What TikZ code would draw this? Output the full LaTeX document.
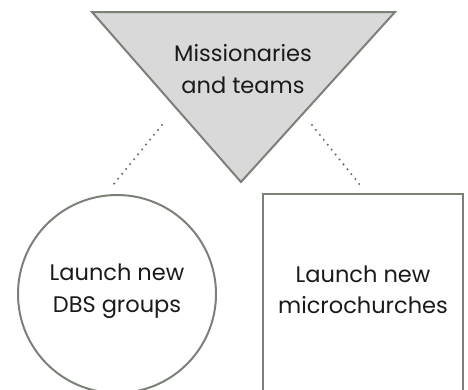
\documentclass[tikz,border=0pt]{standalone}
\usepackage{fontspec}
\setmainfont{Poppins}
\definecolor{edge}{HTML}{7A8278}
\definecolor{fillg}{HTML}{D9D9D9}
\definecolor{txt}{HTML}{1A1A1A}
\begin{document}
\begin{tikzpicture}[x=1pt,y=-1pt,
  shapeline/.style={draw=edge,line width=2pt},
  lbl/.style={align=center,text=txt,font=\fontsize{22.5}{31.5}\selectfont},
  dots/.style={draw=edge!85!black,line width=2.3pt,line cap=round,dash pattern=on 0pt off 6.3pt}]
\useasboundingbox (0,0) rectangle (468,389);
\begin{scope}
\clip (0,0) rectangle (468,389);
\coordinate (tl) at (92,12);
\coordinate (tr) at (395,12);
\coordinate (tb) at (241,182);
\draw[shapeline,fill=fillg,line join=miter] (tl) -- (tr) -- (tb) -- cycle;
\node[lbl] (top) at (243,69) {Missionaries\\and teams};
\node[circle,shapeline,minimum size=198pt,inner sep=0pt] (dbs) at (117,294) {};
\node[lbl] at (dbs.center) [yshift=3pt] {Launch new\\DBS groups};
\draw[shapeline] (263,420) -- (263,194) -- (463,194) -- (463,420);
\node[lbl] (mc) at (363,290) {Launch new\\microchurches};
\coordinate (l1) at (162,125);
\coordinate (l2) at (113,185);
\coordinate (r1) at (312,125);
\coordinate (r2) at (360,185);
\draw[dots] (l1) -- (l2);
\draw[dots] (r1) -- (r2);
\end{scope}
\end{tikzpicture}
\end{document}
